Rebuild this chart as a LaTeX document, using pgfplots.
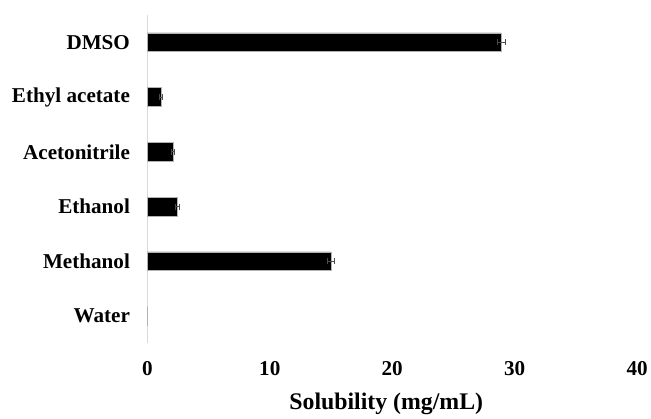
\documentclass[border=0pt]{standalone}
\usepackage{pgfplots}
\pgfplotsset{compat=1.18}
\usepackage{fontspec}
\setmainfont{Liberation Serif}
\begin{document}
\begin{tikzpicture}
\begin{axis}[
  xbar,
  bar shift=0pt,
  scale only axis,
  width=492bp, height=330bp,
  xmin=0, xmax=40, ymin=-0.5, ymax=5.5,
  xtick={0,10,20,30,40},
  ytick={0,1,2,3,4,5},
  yticklabels={Water,Methanol,Ethanol,Acetonitrile,Ethyl acetate,DMSO},
  axis lines*=left,
  x axis line style={draw=none},
  y axis line style={draw=gray!30, line width=1.2bp, -},
  major tick length=0pt,
  tick label style={font=\fontsize{21.3}{21.3}\selectfont\bfseries},
  /pgf/number format/assume math mode=true,
  xticklabel style={anchor=center, yshift=-25bp},
  yticklabel style={xshift=-14bp},
  xlabel={Solubility (mg/mL)},
  xlabel style={font=\fontsize{24}{24}\selectfont\bfseries, at={(rel axis cs:0.5,0)}, anchor=center, yshift=-61bp, xshift=-6bp},
  bar width=19bp,
  clip=false,
]
\addplot[fill=black, draw=gray!60, line width=0.6bp]
  coordinates {
  (0,0)
  (15.0,1)
  (2.45,2)
  (2.1,3)
  (1.1,4)
  (28.9,5)
};
\addplot[draw=none, fill=none, forget plot,
  error bars/.cd, x dir=both, x explicit,
  error bar style={gray!60!black, line width=0.8bp},
  error mark options={rotate=90, mark size=3bp, gray!60!black, line width=0.8bp}]
  coordinates {
  (15.0,1) +- (0.3,0)
  (2.45,2) +- (0.15,0)
  (2.1,3) +- (0.1,0)
  (1.1,4) +- (0.1,0)
  (28.9,5) +- (0.35,0)
};
\path (rel axis cs:0,0) ++(-148bp,-71bp) rectangle ++(651bp,416bp);
\end{axis}
\end{tikzpicture}
\end{document}
